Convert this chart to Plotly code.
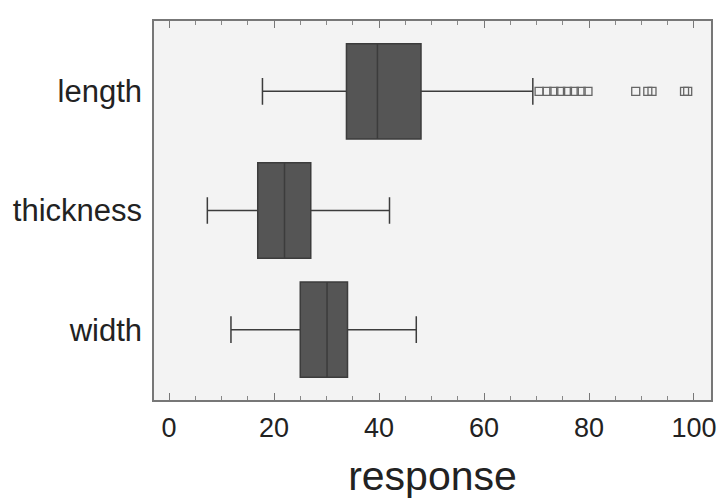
import plotly.graph_objects as go

categories = ["length", "thickness", "width"]
q1_vals = [33.8, 16.9, 25.0]
median_vals = [39.7, 22.0, 30.1]
q3_vals = [48.0, 27.0, 34.0]
lower_vals = [17.8, 7.3, 11.8]
upper_vals = [69.3, 42.0, 47.1]

outlier_cat = ["length"] * 13
outlier_vals = [70.5, 72.0, 73.3, 74.6, 75.9, 77.2, 78.5, 79.8, 88.9, 91.2, 92.0, 98.2, 98.8]

x_ticks = [0, 20, 40, 60, 80, 100]

font_family = "Liberation Sans, Arial, Helvetica, sans-serif"

fig = go.Figure()
fig.add_trace(go.Box(
    y=categories,
    q1=q1_vals,
    median=median_vals,
    q3=q3_vals,
    lowerfence=lower_vals,
    upperfence=upper_vals,
    orientation="h",
    width=0.8,
    whiskerwidth=0.28,
    fillcolor="#555555",
    line=dict(color="#3c3c3c", width=1.5),
    boxpoints=False,
    showlegend=False,
    hoverinfo="skip",
))
fig.add_trace(go.Scatter(
    x=outlier_vals,
    y=outlier_cat,
    mode="markers",
    marker=dict(symbol="square-open", size=8, color="#666666", line=dict(width=1.3, color="#666666")),
    showlegend=False,
    hoverinfo="skip",
))

fig.update_layout(
    width=721,
    height=499,
    margin=dict(l=154, r=10, t=21, b=99),
    paper_bgcolor="white",
    plot_bgcolor="#f3f3f3",
    font=dict(family=font_family, color="#222222"),
    xaxis=dict(
        automargin=False,
        range=[-2.86, 103.24],
        tickvals=x_ticks,
        ticks="inside",
        ticklen=7,
        tickcolor="#777777",
        minor=dict(dtick=5, tick0=0, ticks="inside", ticklen=4, tickcolor="#888888"),
        showline=True,
        linecolor="#777777",
        linewidth=1.5,
        mirror="ticks",
        showgrid=False,
        zeroline=False,
        tickfont=dict(size=27, color="#222222"),
        ticklabelstandoff=3,
        ticklabeloverflow="allow",
        title=dict(text="response", font=dict(size=41, color="#222222"), standoff=21),
    ),
    yaxis=dict(
        automargin=False,
        type="category",
        categoryorder="array",
        categoryarray=categories,
        range=[2.59, -0.59],
        showline=True,
        linecolor="#777777",
        linewidth=1.5,
        mirror=True,
        ticks="",
        showgrid=False,
        zeroline=False,
        tickfont=dict(size=31, color="#222222"),
        ticklabelstandoff=4,
        ticklabeloverflow="allow",
    ),
)

fig.write_html(
    "out.html",
    config={"displayModeBar": False},
    post_script="document.body.style.margin='0';document.body.style.overflow='hidden';",
)
